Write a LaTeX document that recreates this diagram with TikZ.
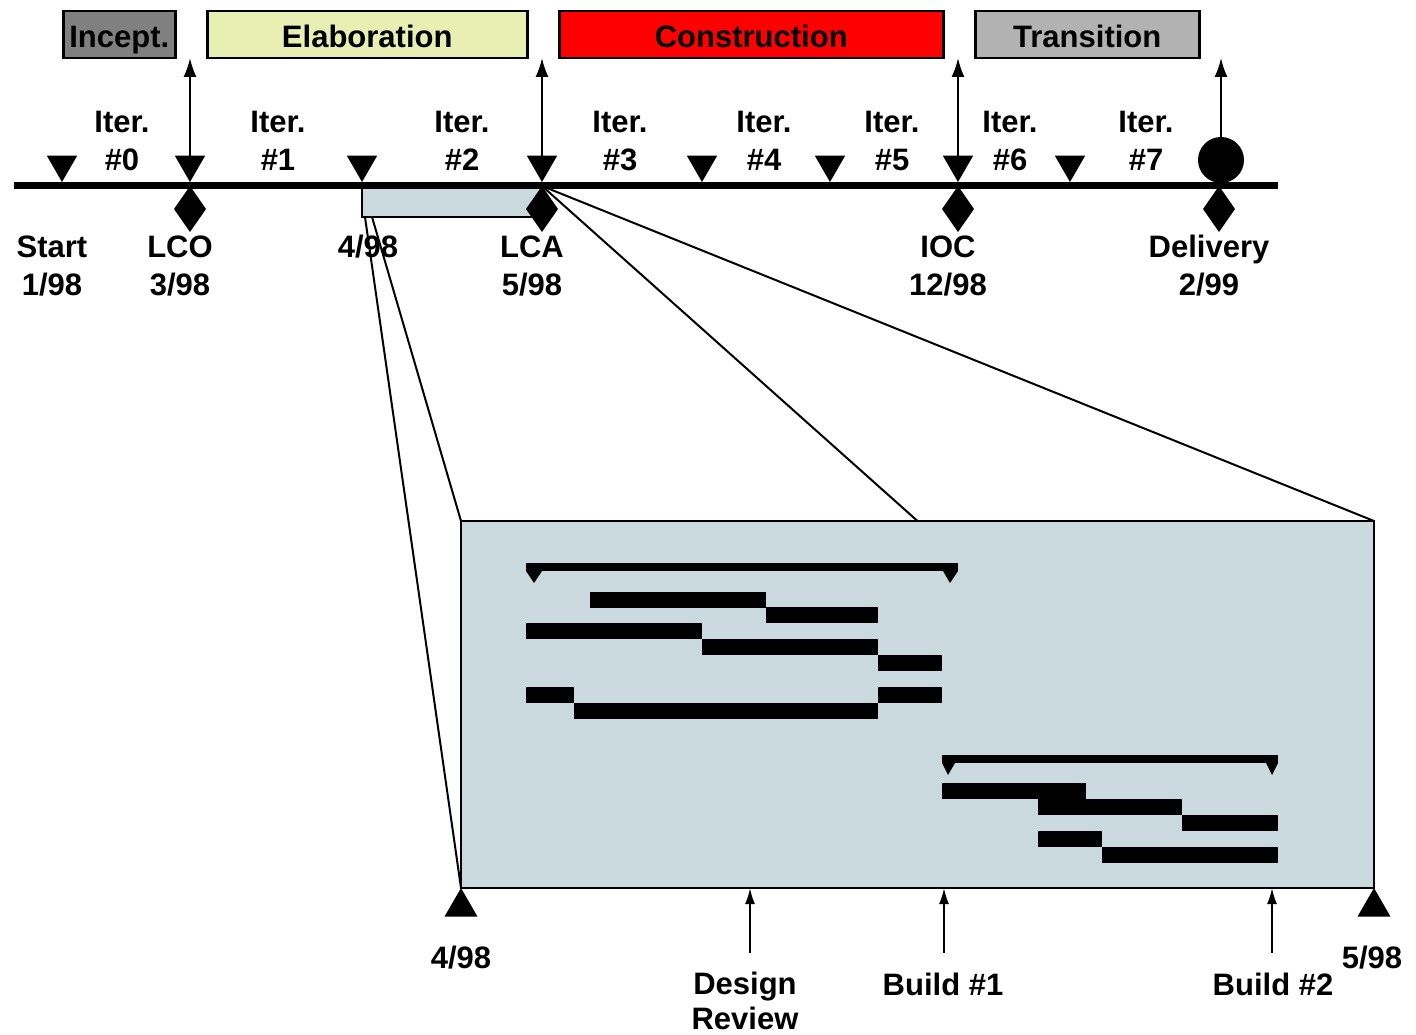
\documentclass[tikz,border=0pt]{standalone}
\usepackage{fontspec}
\setmainfont{Liberation Sans}
\usepackage{xcolor}
\usetikzlibrary{arrows.meta,positioning,calc,shapes.geometric}

\definecolor{inceptgray}{HTML}{808080}
\definecolor{elabyellow}{HTML}{E8EFB2}
\definecolor{transgray}{HTML}{B2B2B2}
\definecolor{zoomblue}{HTML}{C9D9DE}

\newcommand{\lblfont}{\fontsize{31}{38}\selectfont\bfseries}

\tikzset{
  phase/.style={draw, line width=2.5pt, rectangle, minimum height=47pt, inner sep=0pt,
    text height=26pt, text depth=0pt, anchor=north west},
  downmark/.style={regular polygon, regular polygon sides=3, shape border rotate=180,
    fill=black, minimum size=35pt, inner sep=0pt, outer sep=0pt, anchor=corner 1},
  upmark/.style={regular polygon, regular polygon sides=3,
    fill=black, minimum size=38pt, inner sep=0pt, outer sep=0pt, anchor=corner 1},
  gate/.style={diamond, fill=black, minimum width=32pt, minimum height=46pt, inner sep=0pt, outer sep=0pt},
  zoomarea/.style={draw, line width=2.5pt, fill=zoomblue, rectangle, inner sep=0pt, outer sep=0pt, anchor=north west},
  zoomline/.style={line width=2pt},
  milearrow/.style={-{Latex[length=19pt,width=13pt]}, line width=2pt},
  revarrow/.style={-{Latex[length=16pt,width=10pt]}, line width=2pt},
  lbl/.style={align=center, anchor=base, inner sep=0pt}
}

\begin{document}
\begin{tikzpicture}[x=1pt, y=-1pt, font=\lblfont]
    \useasboundingbox (0,0) rectangle (1416,1035);

    % phases
    \node [phase, fill=inceptgray, minimum width=112pt] (incept) at (62,10) {Incept.};
    \node [phase, fill=elabyellow, minimum width=320pt] (elab) at (206,10) {Elaboration};
    \node [phase, fill=red, minimum width=384pt] (constr) at (558,10) {Construction};
    \node [phase, fill=transgray, minimum width=224pt] (trans) at (974,10) {Transition};
    \coordinate (top) at (0,58);

    % zoomed part of elaboration
    \node [zoomarea, minimum width=180pt, minimum height=29pt] (sel) at (362,188) {};

    % time line
    \coordinate (tl-a) at (14,185.5);
    \coordinate (tl-b) at (1278,185.5);
    \draw [line width=7pt] (tl-a) -- (tl-b);

    \foreach \n/\x in {start/62, lco/190, m4/362, lca/542, it4/702, it5/830, ioc/958, it7/1070}
        \node [downmark] (t-\n) at (\x,182) {};
    \node [circle, fill=black, minimum size=46pt, inner sep=0pt, outer sep=0pt] (dlv) at (1221,160) {};

    \foreach \n/\x in {lco/190, lca/542, ioc/958, dlv/1219}
        \node [gate] (d-\n) at (\x,209) {};

    \foreach \n in {lco, lca, ioc}
        \draw [milearrow] (t-\n.north) -- (t-\n.north |- top);
    \draw [milearrow] (dlv.north) -- (dlv.north |- top);

    \foreach \x/\k in {122/0, 278/1, 462/2, 620/3, 764/4, 892/5, 1010/6, 1146/7}
        \node [lbl] (iter\k) at (\x,171) {Iter.\\\#\k};

    \node [lbl] (l-start) at (52,295) {Start\\1/98};
    \node [lbl] (l-lco) at (180,295) {LCO\\3/98};
    \node [lbl] (l-m4) at (368,258) {4/98};
    \node [lbl] (l-lca) at (532,295) {LCA\\5/98};
    \node [lbl] (l-ioc) at (948,295) {IOC\\12/98};
    \node [lbl] (l-dlv) at (1209,295) {Delivery\\2/99};

    % detail box
    \node [zoomarea, minimum width=913pt, minimum height=367pt] (zbox) at (461,521) {};
    \draw [zoomline] ($(sel.south west)+(3,0)$) -- (zbox.south west);
    \draw [zoomline] ($(sel.south west)+(10,0)$) -- (zbox.north west);
    \draw [zoomline] (d-lca.north) -- (zbox.north);
    \draw [zoomline] (d-lca.north) -- (zbox.north east);

    % builds
    \fill (526,563) rectangle (958,571);
    \fill (526,571) -- (542,571) -- (534,583) -- cycle;
    \fill (943,571) -- (958,571) -- (950,583) -- cycle;
    \fill (942,755) rectangle (1278,763);
    \fill (942,763) -- (955,763) -- (948,775) -- cycle;
    \fill (1266,763) -- (1278,763) -- (1272,775) -- cycle;
    \foreach \a/\b/\y in {590/766/592, 766/878/607, 526/702/623, 702/878/639, 878/942/655,
                          526/574/687, 878/942/687, 574/878/703,
                          942/1086/783, 1038/1182/799, 1182/1278/815, 1038/1102/831, 1102/1278/847}
        \fill (\a,\y) rectangle (\b,\y+16);

    \node [upmark] (b-from) at (zbox.south west) {};
    \node [upmark] (b-to) at (zbox.south east) {};
    \foreach \n/\x in {rev/750, b1/944, b2/1272} {
        \coordinate (c-\n) at (\x,953);
        \draw [revarrow] (c-\n) -- (c-\n |- zbox.south);
    }

    \node [lbl] (l-from) at (461,968) {4/98};
    \node [lbl] (l-to) at (1372,968) {5/98};
    \node [lbl, font=\fontsize{31}{35}\selectfont\bfseries] (l-rev) at (745,1029) {Design\\Review};
    \node [lbl] (l-b1) at (943,995) {Build \#1};
    \node [lbl] (l-b2) at (1273,995) {Build \#2};
\end{tikzpicture}
\end{document}
